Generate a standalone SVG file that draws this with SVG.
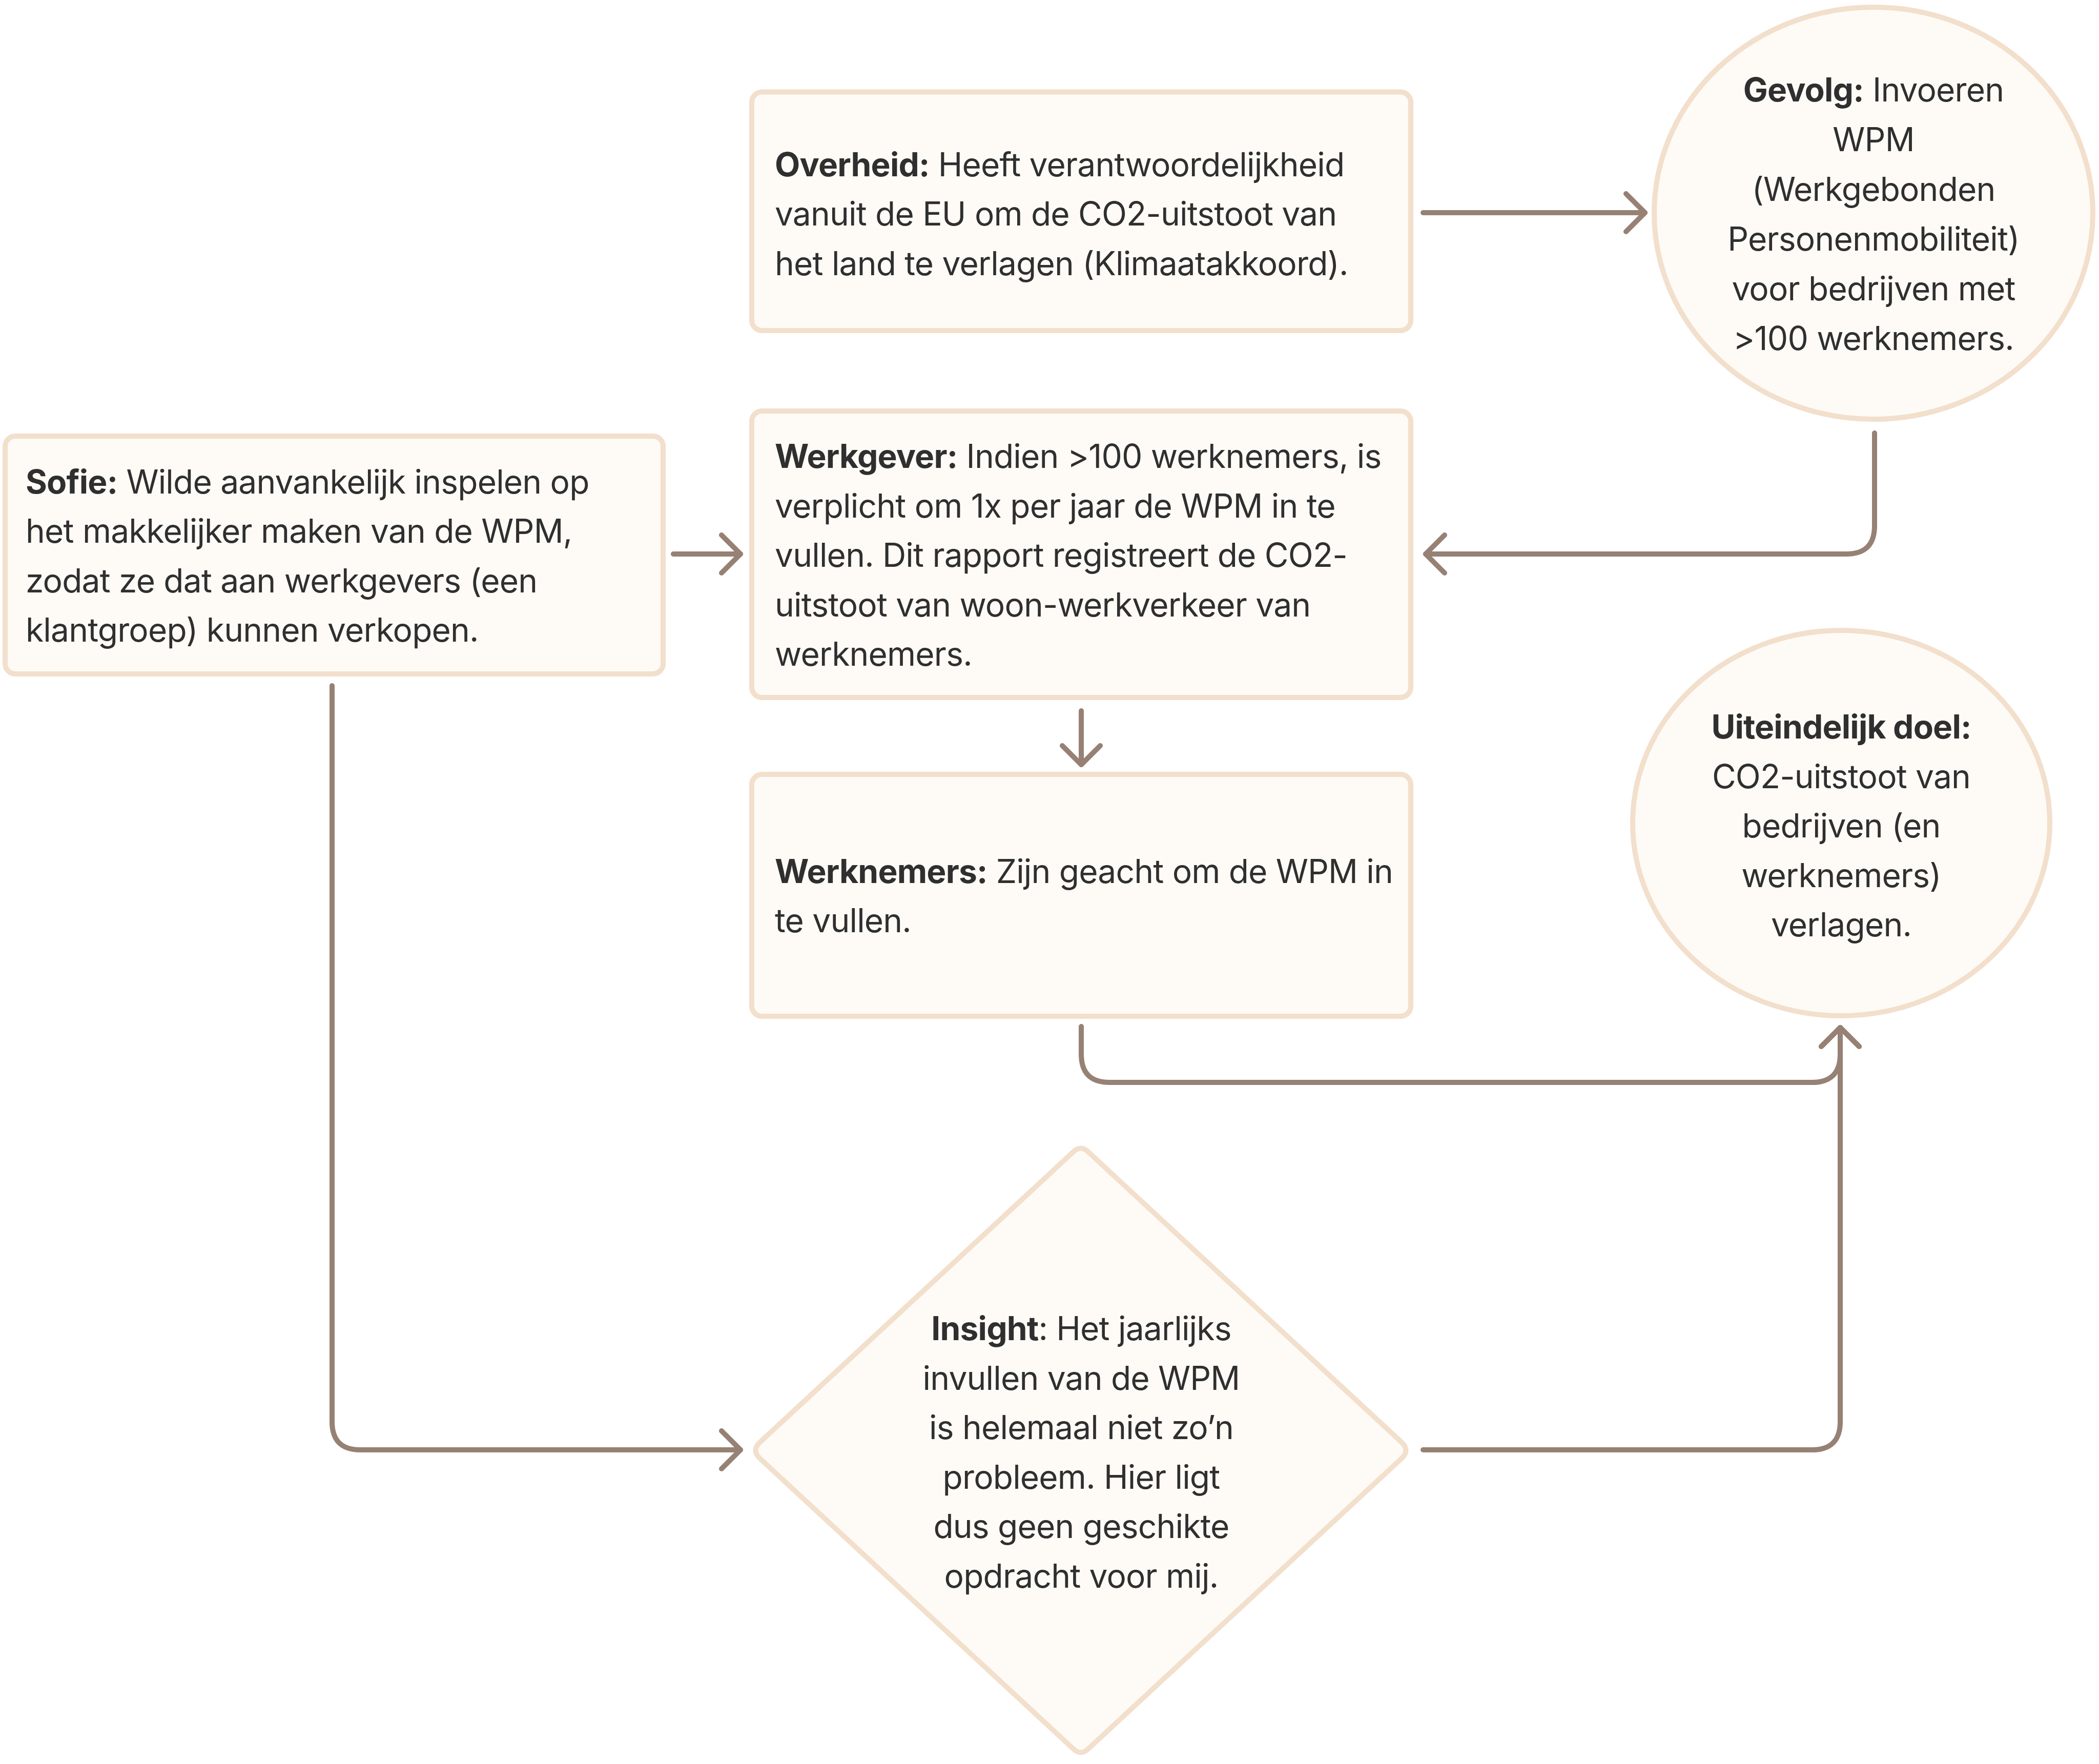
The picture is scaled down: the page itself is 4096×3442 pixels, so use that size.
<svg xmlns="http://www.w3.org/2000/svg" width="4096" height="3442" viewBox="0 0 4096 3442">
<style>
.node{fill:#FEFBF6;stroke:#F2DFCC;stroke-width:10}
.t{font-family:Inter,"Noto Sans","Liberation Sans",sans-serif;font-size:64px;letter-spacing:-0.8px;fill:#2F2F2F}
.c{text-anchor:middle}
.b{font-weight:700}
.con{fill:none;stroke:#968174;stroke-width:10;stroke-linecap:round;stroke-linejoin:round}
</style>
<defs>
<marker id="arr" markerUnits="userSpaceOnUse" markerWidth="120" markerHeight="120" viewBox="-60 -60 120 120" refX="0" refY="0" orient="auto" overflow="visible">
<path d="M -37 -37 L 0 0 L -37 37" fill="none" stroke="#968174" stroke-width="10" stroke-linecap="round" stroke-linejoin="round"/>
</marker>
</defs>
<rect width="4096" height="3442" fill="#FFFFFF"/>
<g id="connectors">
<path class="con" d="M 2777 415 H 3210" marker-end="url(#arr)"/>
<path class="con" d="M 3658 845 V 1026 Q 3658 1081 3603 1081 H 2782" marker-end="url(#arr)"/>
<path class="con" d="M 1314 1081 H 1445" marker-end="url(#arr)"/>
<path class="con" d="M 2110 1387 V 1492" marker-end="url(#arr)"/>
<path class="con" d="M 2110 2003 V 2057 Q 2110 2112 2165 2112 H 3536 Q 3591 2112 3591 2057 V 2005" marker-end="url(#arr)"/>
<path class="con" d="M 648 1338 V 2774 Q 648 2829 703 2829 H 1445" marker-end="url(#arr)"/>
<path class="con" d="M 2777 2829 H 3536 Q 3591 2829 3591 2774 V 2005" marker-end="url(#arr)"/>
</g>
<g id="overheid">
<rect class="node" x="1467" y="179.5" width="1286" height="465.5" rx="20"/>
<text class="t" x="1512" y="343.5"><tspan class="b">Overheid:</tspan> Heeft verantwoordelijkheid</text>
<text class="t" x="1512" y="440">vanuit de EU om de CO2-uitstoot van</text>
<text class="t" x="1512" y="536.5">het land te verlagen (Klimaatakkoord).</text>
</g>
<g id="gevolg">
<ellipse class="node" cx="3656" cy="416" rx="428" ry="402"/>
<text class="t c" x="3656" y="198"><tspan class="b">Gevolg:</tspan> Invoeren</text>
<text class="t c" x="3656" y="295">WPM</text>
<text class="t c" x="3656" y="392">(Werkgebonden</text>
<text class="t c" x="3656" y="489">Personenmobiliteit)</text>
<text class="t c" x="3656" y="586">voor bedrijven met</text>
<text class="t c" x="3656" y="683">&gt;100 werknemers.</text>
</g>
<g id="sofie">
<rect class="node" x="10" y="851" width="1284" height="464" rx="20"/>
<text class="t" x="50" y="962.5"><tspan class="b">Sofie:</tspan> Wilde aanvankelijk inspelen op</text>
<text class="t" x="50" y="1059">het makkelijker maken van de WPM,</text>
<text class="t" x="50" y="1155.5">zodat ze dat aan werkgevers (een</text>
<text class="t" x="50" y="1252">klantgroep) kunnen verkopen.</text>
</g>
<g id="werkgever">
<rect class="node" x="1467" y="802" width="1286" height="559" rx="20"/>
<text class="t" x="1512" y="913"><tspan class="b">Werkgever:</tspan> Indien &gt;100 werknemers, is</text>
<text class="t" x="1512" y="1009.5">verplicht om 1x per jaar de WPM in te</text>
<text class="t" x="1512" y="1106">vullen. Dit rapport registreert de CO2-</text>
<text class="t" x="1512" y="1202.5">uitstoot van woon-werkverkeer van</text>
<text class="t" x="1512" y="1299">werknemers.</text>
</g>
<g id="werknemers">
<rect class="node" x="1467" y="1511" width="1286" height="472" rx="20"/>
<text class="t" x="1512" y="1722.5"><tspan class="b">Werknemers:</tspan> Zijn geacht om de WPM in</text>
<text class="t" x="1512" y="1819">te vullen.</text>
</g>
<g id="doel">
<ellipse class="node" cx="3593" cy="1606" rx="407" ry="376"/>
<text class="t c b" x="3593" y="1441">Uiteindelijk doel:</text>
<text class="t c" x="3593" y="1537.5">CO2-uitstoot van</text>
<text class="t c" x="3593" y="1634">bedrijven (en</text>
<text class="t c" x="3593" y="1730.5">werknemers)</text>
<text class="t c" x="3593" y="1827">verlagen.</text>
</g>
<g id="insight">
<path class="node" d="M 2094 2248 Q 2109 2233 2124 2248 L 2736 2815 Q 2751 2830 2736 2845 L 2124 3412 Q 2109 3427 2094 3412 L 1482 2845 Q 1467 2830 1482 2815 Z"/>
<text class="t c" x="2110" y="2615"><tspan class="b">Insight</tspan>: Het jaarlijks</text>
<text class="t c" x="2110" y="2711.5">invullen van de WPM</text>
<text class="t c" x="2110" y="2808">is helemaal niet zo’n</text>
<text class="t c" x="2110" y="2904.5">probleem. Hier ligt</text>
<text class="t c" x="2110" y="3001">dus geen geschikte</text>
<text class="t c" x="2110" y="3097.5">opdracht voor mij.</text>
</g>
</svg>
